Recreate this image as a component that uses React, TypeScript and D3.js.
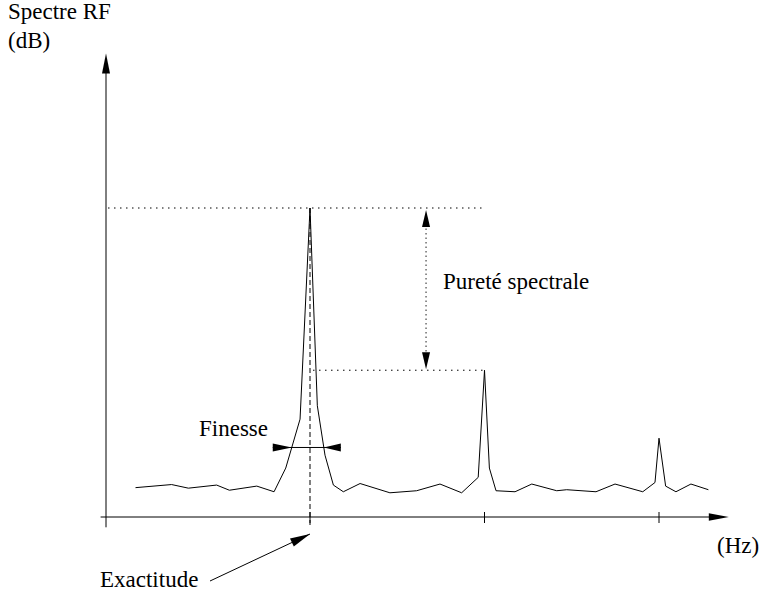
import * as d3 from 'd3';

// Spectrum: frequency (ticks at 1, 2, 3) and level (dB, arbitrary)
const freq = [
  0.0, 0.207, 0.303, 0.465, 0.538, 0.695, 0.794, 0.861, 0.943, 1.0,
  1.042, 1.086, 1.134, 1.191, 1.287, 1.458, 1.611, 1.745, 1.869, 1.964,
  2.0, 2.028, 2.066, 2.175, 2.271, 2.414, 2.471, 2.639, 2.748, 2.907,
  2.977, 3.0, 3.038, 3.097, 3.183, 3.283,
];
const level = [
  5.7, 6.3, 5.6, 6.2, 5.2, 6.0, 4.9, 9.5, 19.0, 60,
  21.6, 12.0, 6.2, 4.9, 6.5, 4.7, 5.1, 6.4, 4.7, 7.7,
  28.5, 9.5, 5.1, 4.9, 6.4, 5.1, 5.3, 4.9, 6.4, 4.9,
  6.7, 15.3, 6.0, 4.9, 6.4, 5.3,
];
const ticks = [1, 2, 3];

// axis extents and annotation levels
const xExtent = [-0.2, 3.4];
const yExtent = [-2, 90];
const mainPeak = { f: 1, db: 60 };
const sidePeak = { f: 2, db: 28.5 };
const purityF = 1.665;
const finesseDb = 13.5;

const labels = {
  yTitle: 'Spectre RF',
  yUnit: '(dB)',
  xUnit: '(Hz)',
  purity: 'Pureté spectrale',
  finesse: 'Finesse',
  accuracy: 'Exactitude',
};

const W = 759;
const H = 594;
const FONT = 'Liberation Serif';

const x = d3.scaleLinear().domain([1, 3]).range([310, 659]);
const y = d3.scaleLinear().domain([0, 60]).range([517, 208]);

function head(tx: number, ty: number, fx: number, fy: number, len: number, wid: number) {
  const dx = tx - fx;
  const dy = ty - fy;
  const d = Math.hypot(dx, dy);
  const ux = dx / d;
  const uy = dy / d;
  const bx = tx - ux * len;
  const by = ty - uy * len;
  const px = -uy * wid / 2;
  const py = ux * wid / 2;
  return `${tx},${ty} ${bx + px},${by + py} ${bx - px},${by - py}`;
}

// where the spectrum crosses a level on each side of the main peak
function crossing(db: number, side: -1 | 1) {
  const iPeak = freq.indexOf(mainPeak.f);
  let i = iPeak;
  while (level[i + side] > db) i += side;
  const j = i + side;
  const t = (level[i] - db) / (level[i] - level[j]);
  return freq[i] + t * (freq[j] - freq[i]);
}

export default function App() {
  const pts = freq.map((f, i) => [f, level[i]] as [number, number]);
  const line = d3.line<[number, number]>().x(d => x(d[0])).y(d => y(d[1]));

  const xa0 = x(xExtent[0]);
  const xa1 = x(xExtent[1]);
  const ya0 = y(yExtent[0]);
  const ya1 = y(yExtent[1]);
  const axisY = y(0);
  const axisX = 106;

  const fL = x(crossing(finesseDb, -1));
  const fR = x(crossing(finesseDb, 1));
  const fy = y(finesseDb);

  const px = x(purityF);
  const pTop = y(mainPeak.db);
  const pBot = y(sidePeak.db);

  const exTip = [x(mainPeak.f), 534];
  const exTail = [210, 581];

  return (
    <svg width={W} height={H} style={{ position: 'absolute', left: 0, top: 0, background: '#fff' }}>
      <g fill="none" stroke="#000" strokeWidth={1}>
        {/* axes */}
        <line x1={xa0} y1={axisY} x2={xa1 - 10} y2={axisY} />
        <line x1={axisX} y1={ya0} x2={axisX} y2={ya1 + 10} />
        {ticks.map(t => (
          <line key={t} x1={x(t)} x2={x(t)} y1={axisY - 5} y2={axisY + 6} />
        ))}

        {/* spectrum */}
        <path d={line(pts) ?? ''} />

        {/* level guides */}
        <line x1={axisX + 2} x2={x(sidePeak.f)} y1={pTop} y2={pTop} strokeDasharray="1.5 4.5" />
        <line x1={x(mainPeak.f) + 3} x2={x(sidePeak.f)} y1={pBot} y2={pBot} strokeDasharray="1.5 4.5" />
        <line x1={px} x2={px} y1={pTop + 16} y2={pBot - 16} strokeDasharray="1.5 3" stroke="#555" strokeWidth={1.3} />

        {/* accuracy dashed line */}
        <line x1={x(mainPeak.f)} x2={x(mainPeak.f)} y1={pTop} y2={axisY + 10} strokeDasharray="5 3" />

        {/* finesse */}
        <line x1={fL - 19} x2={fR + 17} y1={fy} y2={fy} />

        {/* accuracy arrow */}
        <line x1={exTail[0]} y1={exTail[1]} x2={exTip[0]} y2={exTip[1]} />
      </g>

      <g fill="#000" stroke="none">
        <polygon points={head(xa1, axisY, xa0, axisY, 20, 7.5)} />
        <polygon points={head(axisX, ya1, axisX, ya0, 20, 8)} />
        <polygon points={head(px, pTop + 2, px, pBot, 17, 8)} />
        <polygon points={head(px, pBot - 1, px, pTop, 17, 8)} />
        <polygon points={head(fL, fy, fL - 19, fy, 19, 8)} />
        <polygon points={head(fR, fy, fR + 17, fy, 17, 8)} />
        <polygon points={head(exTip[0], exTip[1], exTail[0], exTail[1], 20, 9)} />
      </g>

      <g fontFamily={FONT} fontSize={23} fill="#000">
        <text x={8} y={19}>{labels.yTitle}</text>
        <text x={8} y={48}>{labels.yUnit}</text>
        <text x={717} y={553}>{labels.xUnit}</text>
        <text x={443} y={289}>{labels.purity}</text>
        <text x={199} y={436}>{labels.finesse}</text>
        <text x={100} y={587}>{labels.accuracy}</text>
      </g>
    </svg>
  );
}
